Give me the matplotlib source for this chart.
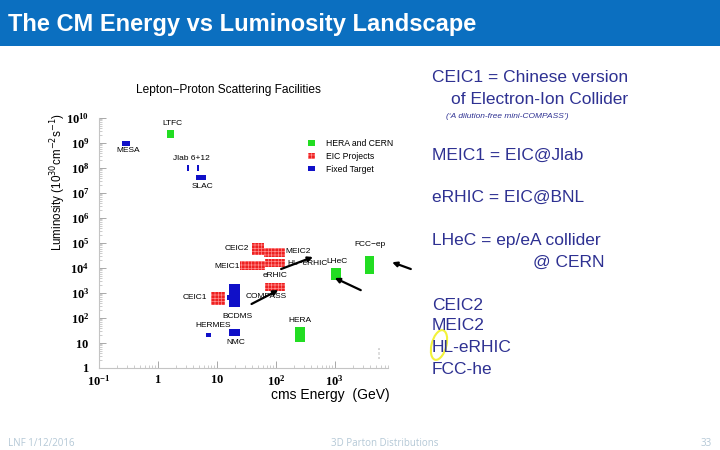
import matplotlib

matplotlib.use("Agg")
import matplotlib.pyplot as plt
from matplotlib.patches import Ellipse, Patch, Rectangle
from matplotlib.ticker import FixedLocator, LogLocator, NullFormatter

plt.rcParams["font.family"] = ["Liberation Sans", "DejaVu Sans"]
plt.rcParams["mathtext.fontset"] = "custom"
plt.rcParams["mathtext.rm"] = "Liberation Serif"
plt.rcParams["mathtext.bf"] = "Liberation Serif:bold"
plt.rcParams["hatch.linewidth"] = 0.5

# facilities: name, group, energy range (GeV), luminosity range (1e30 cm^-2 s^-1)
names = ["MESA", "LTFC", "Jlab 6", "Jlab 12", "SLAC", "CEIC2", "MEIC2", "MEIC1",
         "HL-eRHIC", "eRHIC", "BCDMS", "COMPASS", "CEIC1", "HERMES", "NMC",
         "HERA", "LHeC", "FCC-ep"]
groups = ["fixed", "cern", "fixed", "fixed", "fixed", "eic", "eic", "eic",
          "eic", "eic", "fixed", "fixed", "eic", "fixed", "fixed",
          "cern", "cern", "cern"]
e_lo = [0.25, 1.45, 3.1, 4.6, 4.4, 38.7, 64, 25, 66, 66, 16, 15, 7.9, 6.5, 16, 214, 857, 3300]
e_hi = [0.33, 1.9, 3.3, 4.9, 6.5, 64, 145, 66, 145, 145, 25, 16.5, 14, 7.9, 25, 318, 1260, 4700]
l_lo = [7.6e8, 1.6e9, 7.6e7, 7.6e7, 3.3e7, 3.3e4, 2.8e4, 8.3e3, 1.1e4, 1.2e3, 275, 525,
        330, 17, 19, 11, 3.3e3, 5.8e3]
l_hi = [1.2e9, 3.3e9, 1.3e8, 1.3e8, 5.2e7, 1.0e5, 6.3e4, 1.9e4, 2.3e4, 2.5e3, 2.3e3, 830,
        1.1e3, 25, 36, 44, 1.0e4, 3.0e4]

# in-plot labels: text, energy, luminosity, alignment
label_text = ["LTFC", "MESA", "Jlab 6+12", "SLAC", "CEIC2", "MEIC2", "MEIC1", "HL\u2212eRHIC",
              "eRHIC", "COMPASS", "CEIC1", "BCDMS", "HERMES", "NMC", "HERA", "LHeC",
              "FCC\u2212ep"]
label_e = [1.75, 0.31, 3.65, 5.6, 34.5, 145, 24.4, 158, 98, 30.7, 6.8, 22.5, 8.6, 21,
           258, 1080, 3900]
label_l = [6.3e9, 4.8e8, 2.5e8, 1.74e7, 6.3e4, 4.4e4, 1.2e4, 1.58e4, 4.8e3, 692, 631,
           120, 48, 10, 76, 1.74e4, 9.1e4]
label_ha = ["center", "center", "center", "center", "right", "left", "right", "left",
            "center", "left", "right", "center", "center", "center", "center", "center",
            "center"]

# arrows: (start energy, start lumi) -> (end energy, end lumi)
arrow_start = [(38.7, 363), (123, 9.1e3), (2760, 1.3e3), (19500, 9.1e3)]
arrow_end = [(110, 1.3e3), (427, 2.75e4), (1000, 4.0e3), (9400, 1.7e4)]

x_ticks = [0.1, 1, 10, 100, 1000]
x_tick_labels = [r"$\mathbf{10^{-1}}$", r"$\mathbf{1}$", r"$\mathbf{10}$",
                 r"$\mathbf{10^{2}}$", r"$\mathbf{10^{3}}$"]
y_ticks = [10.0 ** k for k in range(11)]
y_tick_labels = [r"$\mathbf{1}$", r"$\mathbf{10}$"] + [r"$\mathbf{10^{%d}}$" % k for k in range(2, 11)]

legend_labels = {"cern": "HERA and CERN", "eic": "EIC Projects", "fixed": "Fixed Target"}
group_color = {"cern": "#22dd22", "eic": "#ee2020", "fixed": "#1010c8"}

notes = ["CEIC1 = Chinese version", "of Electron-Ion Collider", "MEIC1 = EIC@Jlab",
         "eRHIC = EIC@BNL", "LHeC = ep/eA collider", "@ CERN", "CEIC2", "MEIC2",
         "HL-eRHIC", "FCC-he"]
note_x = [432, 451, 432, 432, 432, 533, 432, 432, 432, 432]
note_y = [77, 100, 155, 197, 240, 262, 306, 326, 347, 370]

W, H = 720, 450
fig = plt.figure(figsize=(7.2, 4.5), dpi=100)
fig.patch.set_facecolor("white")


def fx(px):
    return px / W


def fy(py):
    return 1 - py / H


# title bar
fig.add_artist(Rectangle((0, fy(46)), 1, 46 / H, transform=fig.transFigure,
                         facecolor="#0b6fc0", edgecolor="none", zorder=0))
fig.text(fx(8), fy(24), "The CM Energy vs Luminosity Landscape", color="white",
         fontsize=17, fontweight="bold", va="center", ha="left")

ax = fig.add_axes([fx(99), fy(368), (388 - 99) / W, (368 - 118) / H])
ax.set_xscale("log")
ax.set_yscale("log")
ax.set_xlim(0.1, 8000)
ax.set_ylim(1, 1e10)

for n, g, a, b, c, d in zip(names, groups, e_lo, e_hi, l_lo, l_hi):
    kw = dict(color=group_color[g], linewidth=0)
    if g == "eic":
        kw.update(hatch="+++++", edgecolor="#ff8c8c")
    ax.bar(a, d - c, width=b - a, bottom=c, align="edge", zorder=2, **kw)

for t, e, l, ha in zip(label_text, label_e, label_l, label_ha):
    ax.text(e, l, t, fontsize=6, ha=ha, va="center", zorder=4)

for s, e in zip(arrow_start, arrow_end):
    ax.annotate("", xy=e, xytext=s, annotation_clip=False, zorder=5,
                arrowprops=dict(arrowstyle="-|>", color="black", lw=1.6,
                                mutation_scale=7, shrinkA=0, shrinkB=0))

handles = []
for g in ["cern", "eic", "fixed"]:
    kw = dict(facecolor=group_color[g], edgecolor="none")
    if g == "eic":
        kw.update(hatch="+++++", edgecolor="#ff8c8c", linewidth=0)
    handles.append(Patch(label=legend_labels[g], **kw))
ax.legend(handles=handles, loc="upper left", bbox_to_anchor=(0.71, 0.93),
          frameon=False, fontsize=6.2, handlelength=0.8, handleheight=0.6,
          handletextpad=1.3, labelspacing=0.45, borderaxespad=0)

for side in ["top", "right"]:
    ax.spines[side].set_visible(False)
for side in ["left", "bottom"]:
    ax.spines[side].set_color("#c4c4c4")
    ax.spines[side].set_linewidth(0.8)

ax.xaxis.set_major_locator(FixedLocator(x_ticks))
ax.set_xticklabels(x_tick_labels)
ax.yaxis.set_major_locator(FixedLocator(y_ticks))
ax.set_yticklabels(y_tick_labels)
ax.xaxis.set_minor_locator(LogLocator(base=10, subs=range(2, 10), numticks=100))
ax.yaxis.set_minor_locator(LogLocator(base=10, subs=range(2, 10), numticks=100))
ax.xaxis.set_minor_formatter(NullFormatter())
ax.yaxis.set_minor_formatter(NullFormatter())
ax.tick_params(which="major", direction="in", length=5, width=0.7, color="#a8a8a8",
               labelsize=9)
ax.tick_params(which="minor", direction="in", length=2.5, width=0.5, color="#b8b8b8")
ax.tick_params(axis="x", which="major", pad=4)
ax.tick_params(axis="y", which="major", pad=7)

fig.text(fx(228), fy(90), "Lepton\u2212Proton Scattering Facilities", fontsize=8.6,
         ha="center", va="center")
fig.text(fx(58), fy(182), r"Luminosity (10$^{30}$cm$^{-2}$s$^{-1}$)", fontsize=8.4,
         rotation=90, ha="center", va="center",
         math_fontfamily="dejavusans")
fig.text(fx(390), fy(395), "cms Energy  (GeV)", fontsize=10, ha="right", va="center")
fig.text(fx(380), fy(352), "x  o  x", fontsize=3, rotation=90, color="#909090",
         ha="center", va="center")

navy = "#2e3192"
for t, x, y in zip(notes, note_x, note_y):
    fig.text(fx(x), fy(y), t, fontsize=12.5, color=navy, ha="left", va="center")
fig.text(fx(446), fy(116), "(\u2018A dilution-free mini-COMPASS\u2019)", fontsize=6,
         style="italic", color=navy, ha="left", va="center")

fig.add_artist(Ellipse((fx(439), fy(345)), 15 / W, 30 / H, angle=-8,
                       transform=fig.transFigure, fill=False, edgecolor="#f2f23a",
                       linewidth=1.5))

foot = "#b4c8d6"
fig.text(fx(8), fy(444), "LNF 1/12/2016", fontsize=7, color=foot, ha="left", va="center",
         family=["Open Sans", "DejaVu Sans"])
fig.text(fx(385), fy(444), "3D Parton Distributions", fontsize=7, color=foot, ha="center",
         va="center", family=["Open Sans", "DejaVu Sans"])
fig.text(fx(712), fy(444), "33", fontsize=7, color=foot, ha="right", va="center",
         family=["Open Sans", "DejaVu Sans"])

fig.savefig("out.png", dpi=100)
